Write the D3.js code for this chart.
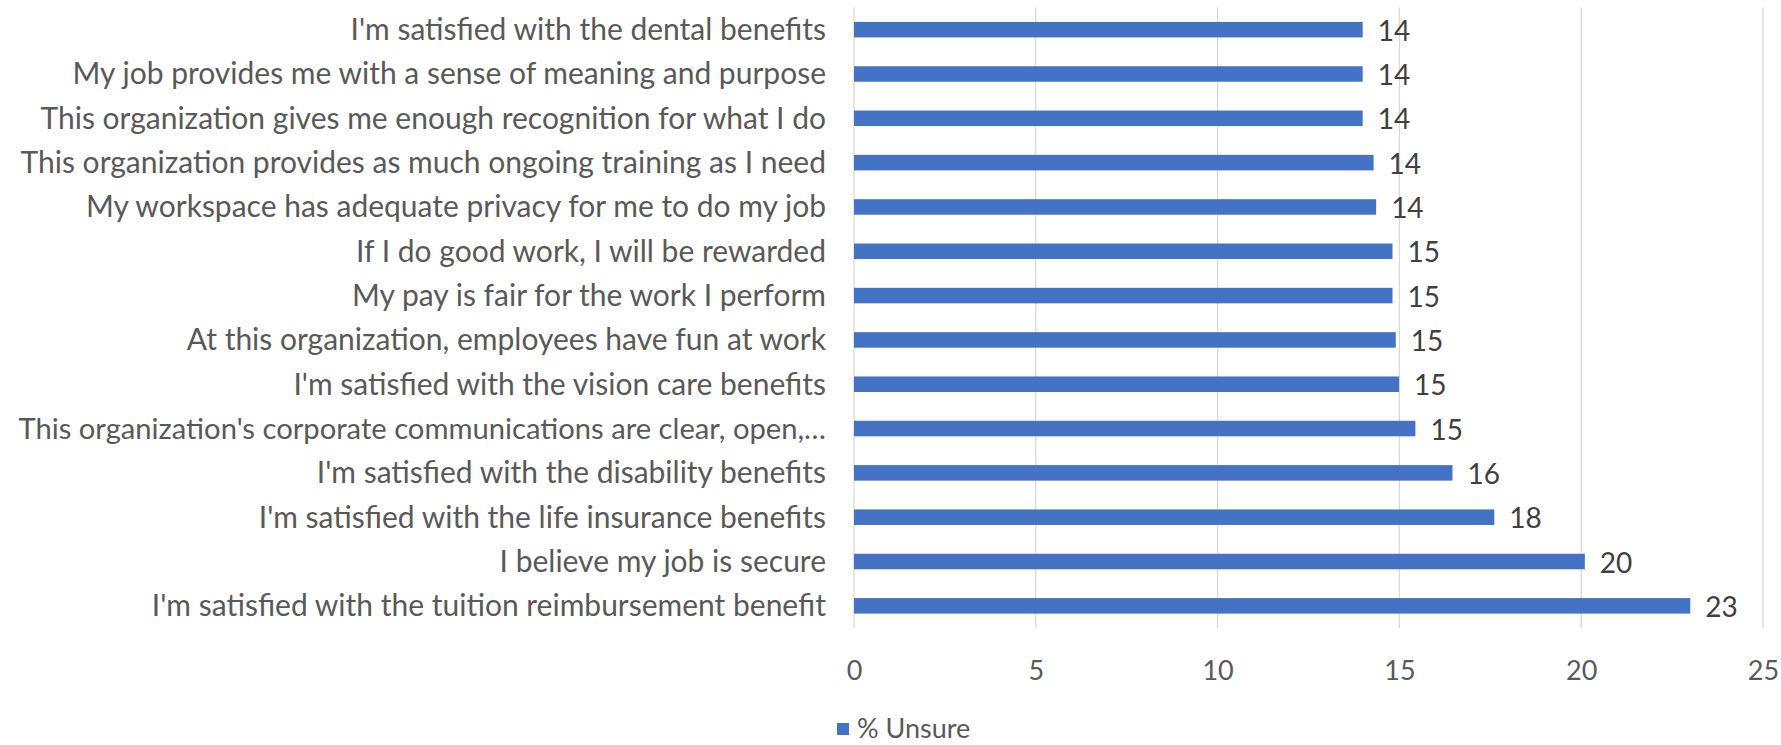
<!DOCTYPE html>
<html>
<head>
<meta charset="utf-8">
<script src="https://cdn.jsdelivr.net/npm/d3@7"></script>
<style>
  html, body { margin: 0; padding: 0; background: #fff; }
  svg { display: block; }
  text { font-family: Lato, "Open Sans", sans-serif; }
</style>
</head>
<body>
<svg id="chart" width="1781" height="745"></svg>
<script>
const categories = [
  "I'm satisfied with the dental benefits",
  "My job provides me with a sense of meaning and purpose",
  "This organization gives me enough recognition for what I do",
  "This organization provides as much ongoing training as I need",
  "My workspace has adequate privacy for me to do my job",
  "If I do good work, I will be rewarded",
  "My pay is fair for the work I perform",
  "At this organization, employees have fun at work",
  "I'm satisfied with the vision care benefits",
  "This organization's corporate communications are clear, open,…",
  "I'm satisfied with the disability benefits",
  "I'm satisfied with the life insurance benefits",
  "I believe my job is secure",
  "I'm satisfied with the tuition reimbursement benefit"
];
const unsure = [13.99, 13.99, 13.99, 14.29, 14.36, 14.81, 14.81, 14.9, 14.99, 15.44, 16.46, 17.61, 20.1, 23.0];
const xTicks = [0, 5, 10, 15, 20, 25];
const seriesName = "% Unsure";

(function () {
const svg = d3.select("#chart");
const pLeft = 854, pRight = 1763, pTop = 7.5, pBottom = 628;

const x = d3.scaleLinear().domain([0, 25]).range([pLeft, pRight]);
const y = d3.scaleBand().domain(categories).range([pTop, pBottom]).paddingInner(0.65).paddingOuter(0.325);

// gridlines
svg.append("g").selectAll("line").data(xTicks).join("line")
  .attr("x1", d => x(d)).attr("x2", d => x(d))
  .attr("y1", pTop).attr("y2", pBottom)
  .attr("stroke", "#d9d9d9").attr("stroke-width", 1.3);

// bars
svg.append("g").selectAll("rect").data(categories).join("rect")
  .attr("x", x(0))
  .attr("y", d => y(d))
  .attr("width", (d, i) => x(unsure[i]) - x(0))
  .attr("height", y.bandwidth())
  .attr("fill", "#4472C4");

// data labels
svg.append("g").selectAll("text").data(categories).join("text")
  .attr("x", (d, i) => x(unsure[i]) + 15)
  .attr("y", d => y(d) + y.bandwidth() / 2 + 11)
  .attr("font-size", 28)
  .attr("fill", "#404040")
  .text((d, i) => Math.round(unsure[i]));

// category labels
const labelX = pLeft - 28, minLeft = 18;
svg.append("g").selectAll("text").data(categories).join("text")
  .attr("x", labelX)
  .attr("y", d => y(d) + y.bandwidth() / 2 + 10.5)
  .attr("text-anchor", "end")
  .attr("font-size", 30)
  .attr("fill", "#595959")
  .text(d => d)
  .each(function () {
    const w = this.getComputedTextLength();
    const avail = labelX - minLeft;
    if (w > avail) d3.select(this).attr("font-size", 30 * avail / w);
  });

// x axis tick labels
const xAxis = d3.axisBottom(x).tickValues(xTicks).tickSize(0).tickPadding(0);
const gx = svg.append("g").attr("transform", `translate(0,${pBottom + 52})`).call(xAxis);
gx.select(".domain").remove();
gx.selectAll("text")
  .attr("font-size", 27)
  .attr("font-family", "Lato, 'Open Sans', sans-serif")
  .attr("fill", "#595959")
  .attr("dy", 0);

// legend
const lg = svg.append("g");
lg.append("rect").attr("x", 837).attr("y", 723).attr("width", 12).attr("height", 12).attr("fill", "#4472C4");
lg.append("text").attr("x", 857).attr("y", 738).attr("font-size", 27).attr("fill", "#595959").text(seriesName);
})();
</script>
</body>
</html>
